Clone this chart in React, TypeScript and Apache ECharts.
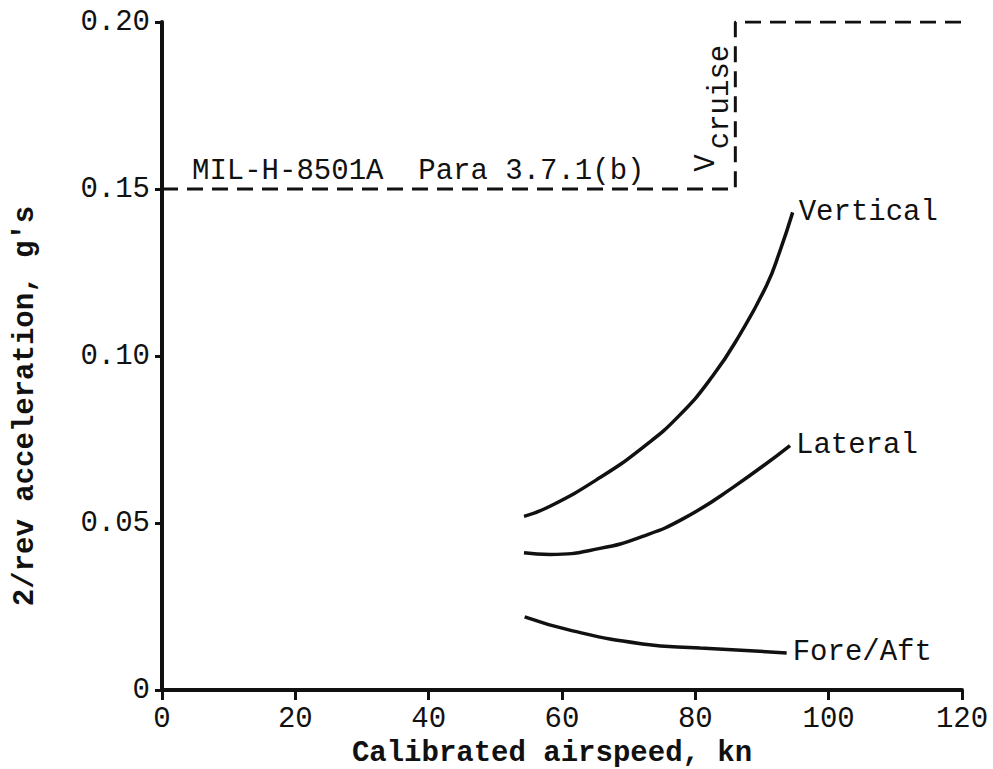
import React, { useEffect, useRef } from "react";
import * as echarts from "echarts";

const verticalX = [54.3, 58.2, 65.7, 72.1, 77.5, 82.6, 86.7, 90.7, 92.7, 94.6];
const verticalY = [0.052, 0.055, 0.0636, 0.0726, 0.082, 0.094, 0.1065, 0.1212, 0.1315, 0.143];
const lateralX = [54.3, 58.2, 65.7, 72.1, 78.2, 85.6, 94.2];
const lateralY = [0.0411, 0.0406, 0.0424, 0.046, 0.0513, 0.0606, 0.0732];
const foreAftX = [54.4, 61.6, 72.1, 80.7, 93.7];
const foreAftY = [0.0219, 0.0177, 0.0138, 0.0126, 0.0111];
const limitX = [0, 86, 86, 120];
const limitY = [0.15, 0.15, 0.2, 0.2];

const FONT = "Liberation Mono";
const INK = "#111111";

const zip = (xs: number[], ys: number[]) => xs.map((x, i) => [x, ys[i]]);

export default function App() {
  const ref = useRef<HTMLDivElement>(null);
  useEffect(() => {
    if (!ref.current) return;
    const chart = echarts.init(ref.current, undefined, { renderer: "svg" });
    const txt = { fontFamily: FONT, fontSize: 29, color: INK };
    const curve = (name: string, xs: number[], ys: number[]) => ({
      type: "line",
      name,
      data: zip(xs, ys),
      smooth: 0.5,
      symbol: "none",
      lineStyle: { color: INK, width: 3.5 },
      endLabel: {
        show: true,
        formatter: "{a}",
        ...txt,
        distance: 6,
      },
    });
    chart.setOption({
      animation: false,
      backgroundColor: "#ffffff",
      grid: {
        left: 162,
        right: 31,
        top: 22,
        bottom: 79,
        containLabel: false,
        outerBoundsMode: "none",
      },
      xAxis: {
        type: "value",
        min: 0,
        max: 120,
        interval: 20,
        name: "Calibrated airspeed, kn",
        nameLocation: "middle",
        nameGap: 40,
        nameTextStyle: {
          ...txt,
          fontWeight: "bold",
          lineHeight: 29,
          padding: [0, 20, 0, 0],
        },
        axisLine: { lineStyle: { color: INK, width: 4 } },
        axisTick: { show: true, length: 10, lineStyle: { color: INK, width: 3 } },
        axisLabel: { ...txt, margin: 15 },
        splitLine: { show: false },
      },
      yAxis: {
        type: "value",
        min: 0,
        max: 0.2,
        interval: 0.05,
        axisLine: { show: true, lineStyle: { color: INK, width: 4 } },
        axisTick: { show: true, length: 7, lineStyle: { color: INK, width: 3 } },
        axisLabel: {
          ...txt,
          margin: 12,
          formatter: (v: number) => (v === 0 ? "0" : v.toFixed(2)),
        },
        splitLine: { show: false },
      },
      series: [
        {
          type: "line",
          name: "limit",
          data: zip(limitX, limitY),
          symbol: "none",
          lineStyle: { color: INK, width: 3, type: [16, 9] },
        },
        curve("Vertical", verticalX, verticalY),
        curve("Lateral", lateralX, lateralY),
        curve("Fore/Aft", foreAftX, foreAftY),
      ],
    });
    const p = (x: number, y: number) =>
      chart.convertToPixel({ xAxisIndex: 0, yAxisIndex: 0 }, [x, y]) as number[];
    const specPos = p(4.5, 0.15);
    const vPos = p(81.6, 0.15);
    const cruisePos = p(83.7, 0.2);
    chart.setOption({
      graphic: [
        {
          type: "text",
          x: specPos[0],
          y: specPos[1] - 3,
          style: {
            text: "MIL-H-8501A  Para 3.7.1(b)",
            font: `29px "${FONT}"`,
            fill: INK,
            textAlign: "left",
            textVerticalAlign: "bottom",
          },
        },
        {
          type: "text",
          x: vPos[0],
          y: vPos[1] - 26,
          rotation: Math.PI / 2,
          style: {
            text: "V",
            font: `29px "${FONT}"`,
            fill: INK,
            textAlign: "center",
            textVerticalAlign: "middle",
          },
        },
        {
          type: "text",
          x: cruisePos[0],
          y: cruisePos[1] + 75,
          rotation: Math.PI / 2,
          style: {
            text: "cruise",
            font: `29px "${FONT}"`,
            fill: INK,
            textAlign: "center",
            textVerticalAlign: "middle",
          },
        },
        {
          type: "text",
          x: 25,
          y: 406,
          rotation: Math.PI / 2,
          style: {
            text: "2/rev acceleration, g's",
            font: `bold 29px "${FONT}"`,
            fill: INK,
            textAlign: "center",
            textVerticalAlign: "middle",
          },
        },
      ],
    });
    return () => chart.dispose();
  }, []);
  return (
    <div
      ref={ref}
      style={{ position: "fixed", left: 0, top: 0, width: 993, height: 769, background: "#fff" }}
    />
  );
}
